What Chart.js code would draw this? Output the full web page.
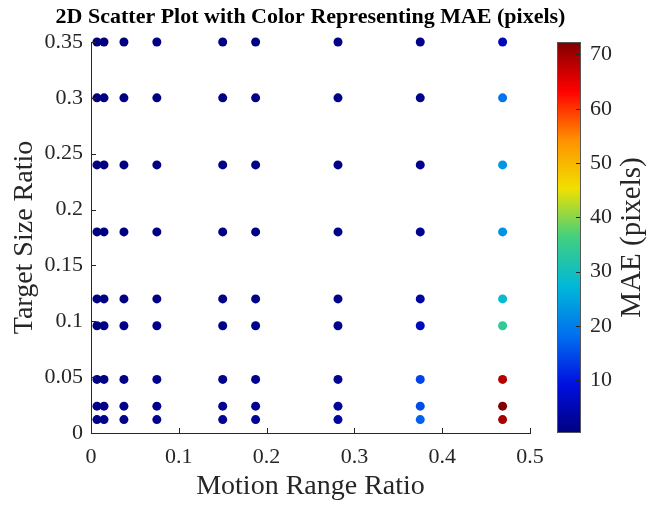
<!DOCTYPE html>
<html>
<head>
<meta charset="utf-8">
<script src="https://cdn.jsdelivr.net/npm/chart.js@4.4.1/dist/chart.umd.min.js"></script>
<style>
  html, body { margin: 0; padding: 0; background: #fff; }
  #wrap { width: 668px; height: 507px; }
</style>
</head>
<body>
<div id="wrap"><canvas id="scatter" width="668" height="507"></canvas></div>
<script>
// Motion range ratio (x) and target size ratio (y) of the test grid
const motionRatio = [0.0068, 0.0148, 0.0375, 0.075, 0.15, 0.1875, 0.2813, 0.375, 0.4688];
const sizeRatio = [0.012, 0.024, 0.048, 0.096, 0.12, 0.18, 0.24, 0.30, 0.35];

// MAE (pixels), one list per motion ratio, ordered like sizeRatio
const mae0068 = [1.2, 1.0, 0.8, 0.6, 0.5, 0.4, 0.4, 0.3, 0.3];
const mae0148 = [1.4, 1.2, 0.9, 0.7, 0.6, 0.5, 0.4, 0.4, 0.3];
const mae0375 = [1.6, 1.4, 1.1, 0.8, 0.7, 0.6, 0.5, 0.5, 0.4];
const mae075 = [1.8, 1.6, 1.2, 0.9, 0.8, 0.7, 0.6, 0.5, 0.5];
const mae15 = [2.2, 1.9, 1.5, 1.1, 1.0, 0.8, 0.7, 0.6, 0.6];
const mae1875 = [2.5, 2.2, 1.7, 1.2, 1.1, 0.9, 0.8, 0.7, 0.6];
const mae2813 = [3.2, 2.8, 2.2, 1.5, 1.3, 1.1, 0.9, 0.8, 0.7];
const mae375 = [17.0, 15.0, 14.0, 6.0, 3.2, 1.8, 1.5, 1.3, 1.2];
const mae4688 = [69.5, 72.3, 68.5, 34.0, 28.0, 22.5, 23.0, 19.0, 5.5];
const maeColumns = [mae0068, mae0148, mae0375, mae075, mae15, mae1875, mae2813, mae375, mae4688];

// axis ticks
const xTicks = [0, 0.1, 0.2, 0.3, 0.4, 0.5];
const yTicks = [0, 0.05, 0.1, 0.15, 0.2, 0.25, 0.3, 0.35];
const maeTicks = [10, 20, 30, 40, 50, 60, 70];
const maeMin = 0.3;
const maeMax = 72.3;

// jet-like colormap as it looks on the reference colorbar
const cmapStops = [0, 0.125, 0.25, 0.375, 0.5, 0.625, 0.75, 0.875, 1];
const cmapColors = [[0, 0, 128], [0, 16, 224], [0, 112, 240], [0, 184, 216], [64, 208, 128],
                    [240, 224, 0], [255, 144, 0], [255, 0, 0], [128, 0, 0]];

const textColor = "#262626";
const serif = "'Liberation Serif', 'Times New Roman', serif";

function cmap(t) {
  t = Math.max(0, Math.min(1, t));
  let k = 0;
  while (k < cmapStops.length - 2 && t > cmapStops[k + 1]) k++;
  const f = (t - cmapStops[k]) / (cmapStops[k + 1] - cmapStops[k]);
  const a = cmapColors[k], b = cmapColors[k + 1];
  const mix = i => Math.round(a[i] + (b[i] - a[i]) * f);
  return "rgb(" + mix(0) + "," + mix(1) + "," + mix(2) + ")";
}
function maeColor(v) {
  return cmap((v - maeMin) / (maeMax - maeMin));
}

// build the point list
const points = [];
const colors = [];
motionRatio.forEach((mx, i) => {
  sizeRatio.forEach((sy, j) => {
    const v = maeColumns[i][j];
    points.push({ x: mx, y: sy, mae: v });
    colors.push(maeColor(v));
  });
});

function fixTicks(list) {
  return function (scale) {
    scale.ticks = list.map(v => ({ value: v }));
  };
}
// keep tick labels from pushing the plot area around
function noPad(scale) {
  scale.paddingTop = 0;
  scale.paddingBottom = 0;
  scale.paddingLeft = 0;
  scale.paddingRight = 0;
}

// title, inward tick marks, colorbar and its label
const extras = {
  id: "extras",
  afterDraw(chart) {
    const ctx = chart.ctx;
    const xs = chart.scales.x, ys = chart.scales.y, cs = chart.scales.mae;
    const area = chart.chartArea;
    ctx.save();

    ctx.fillStyle = "#000";
    ctx.font = "bold 22px " + serif;
    ctx.textAlign = "center";
    ctx.textBaseline = "middle";
    ctx.fillText("2D Scatter Plot with Color Representing MAE (pixels)", (area.left + area.right) / 2, 17);

    ctx.strokeStyle = textColor;
    ctx.lineWidth = 1;
    ctx.beginPath();
    xTicks.forEach(v => {
      const px = Math.round(xs.getPixelForValue(v)) + 0.5;
      ctx.moveTo(px, area.bottom);
      ctx.lineTo(px, area.bottom - 5);
    });
    yTicks.forEach(v => {
      const py = Math.round(ys.getPixelForValue(v)) + 0.5;
      ctx.moveTo(area.left, py);
      ctx.lineTo(area.left + 5, py);
    });
    ctx.stroke();

    // colorbar
    const barL = 557, barR = 581;
    const top = cs.getPixelForValue(maeMax);
    const bot = cs.getPixelForValue(maeMin);
    const grad = ctx.createLinearGradient(0, bot, 0, top);
    for (let k = 0; k <= 64; k++) {
      grad.addColorStop(k / 64, cmap(k / 64));
    }
    ctx.fillStyle = grad;
    ctx.fillRect(barL, top, barR - barL, bot - top);
    ctx.strokeStyle = "#555";
    ctx.strokeRect(barL + 0.5, top + 0.5, barR - barL - 1, bot - top - 1);
    ctx.strokeStyle = textColor;
    ctx.beginPath();
    maeTicks.forEach(v => {
      const py = Math.round(cs.getPixelForValue(v)) + 0.5;
      ctx.moveTo(barR - 1, py);
      ctx.lineTo(barR - 5, py);
    });
    ctx.stroke();

    // colorbar title, reading bottom to top
    ctx.translate(632, (top + bot) / 2);
    ctx.rotate(-Math.PI / 2);
    ctx.fillStyle = textColor;
    ctx.font = "29px " + serif;
    ctx.textAlign = "center";
    ctx.textBaseline = "middle";
    ctx.fillText("MAE (pixels)", 0, 0);
    ctx.restore();
  }
};

new Chart(document.getElementById("scatter"), {
  type: "scatter",
  data: {
    datasets: [{
      data: points,
      pointRadius: 4.5,
      pointHoverRadius: 4.5,
      pointBorderWidth: 0,
      backgroundColor: colors,
      borderColor: colors,
      clip: false
    }]
  },
  options: {
    responsive: false,
    animation: false,
    layout: { padding: { top: 42, left: 0, right: 0, bottom: 0 } },
    plugins: {
      legend: { display: false },
      tooltip: { enabled: false },
      title: { display: false }
    },
    scales: {
      x: {
        type: "linear",
        min: 0,
        max: 0.5,
        afterBuildTicks: fixTicks(xTicks),
        afterFit: s => { s.height = 74; noPad(s); },
        grid: { display: false, drawTicks: false },
        border: { display: true, color: textColor, width: 1 },
        ticks: {
          color: textColor,
          padding: 11,
          maxRotation: 0,
          font: { family: serif, size: 22 },
          callback: v => String(v)
        },
        title: {
          display: true,
          text: "Motion Range Ratio",
          color: textColor,
          font: { family: serif, size: 28 },
          padding: { top: 0, bottom: 4 }
        }
      },
      y: {
        type: "linear",
        min: 0,
        max: 0.35,
        afterBuildTicks: fixTicks(yTicks),
        afterFit: s => { s.width = 91; noPad(s); },
        grid: { display: false, drawTicks: false },
        border: { display: true, color: textColor, width: 1 },
        ticks: {
          color: textColor,
          padding: 8,
          font: { family: serif, size: 22 },
          callback: v => String(v)
        },
        title: {
          display: true,
          text: "Target Size Ratio",
          color: textColor,
          font: { family: serif, size: 28 },
          padding: { top: 8, bottom: 0 }
        }
      },
      mae: {
        type: "linear",
        position: "right",
        min: maeMin,
        max: maeMax,
        afterBuildTicks: fixTicks(maeTicks),
        afterFit: s => { s.width = 138; noPad(s); },
        grid: { display: false, drawTicks: false },
        border: { display: false },
        ticks: {
          color: textColor,
          padding: 60,
          font: { family: serif, size: 22 },
          callback: v => String(v)
        }
      }
    }
  },
  plugins: [extras]
});
</script>
</body>
</html>
